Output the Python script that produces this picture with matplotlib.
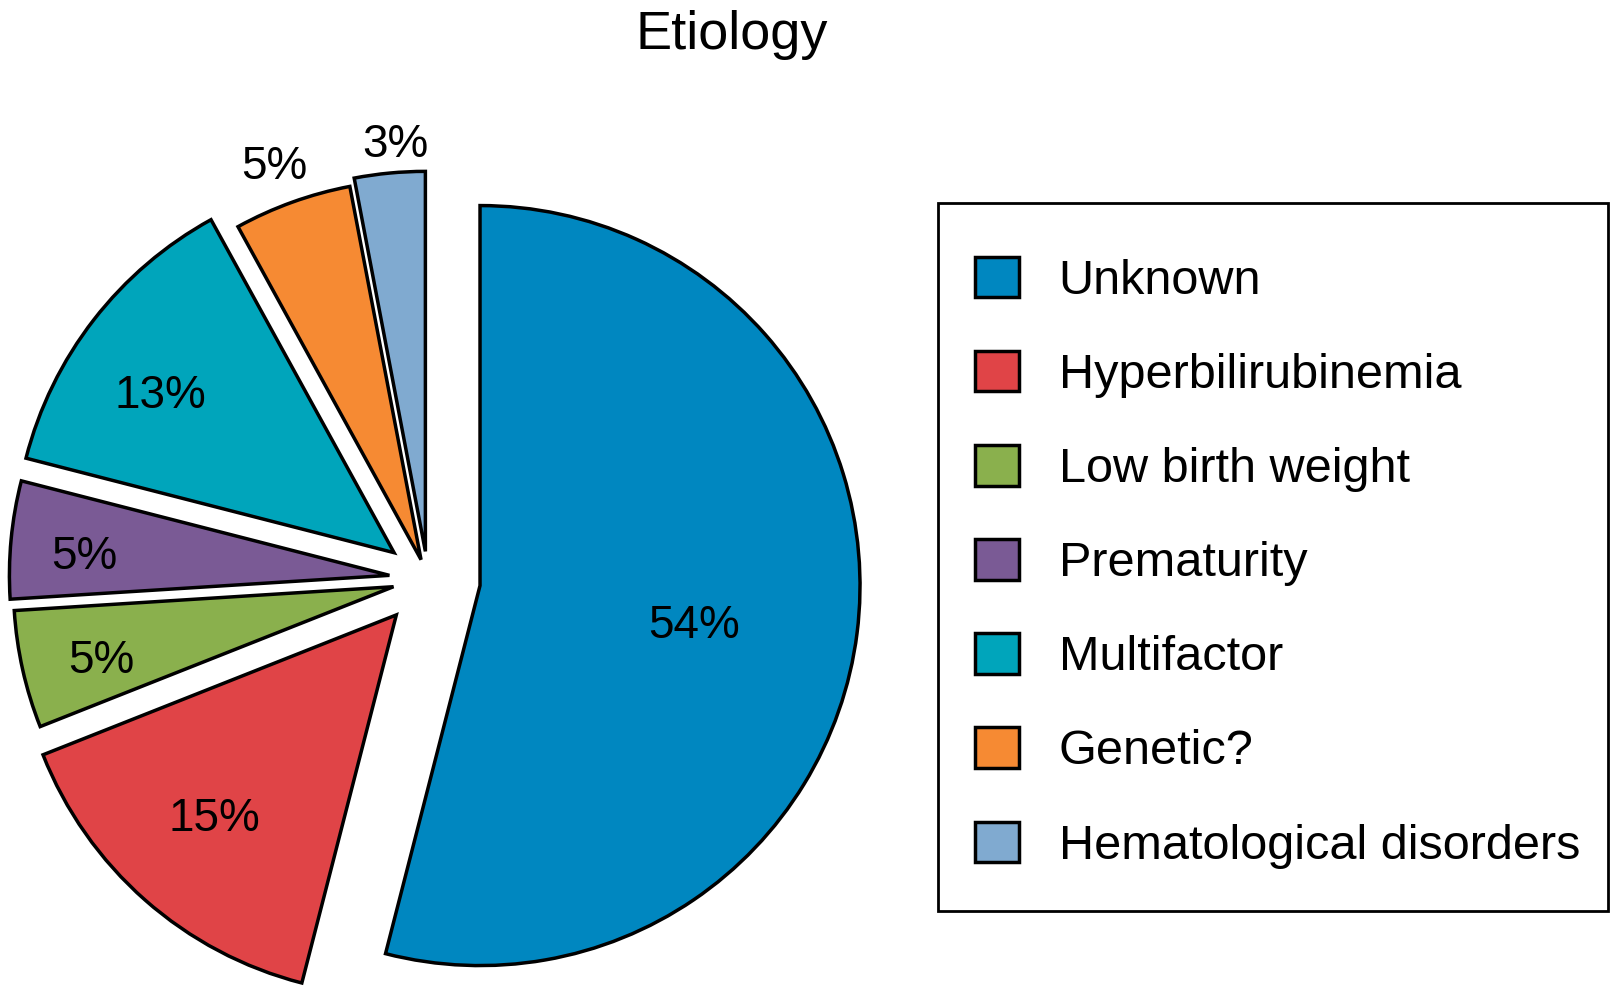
import matplotlib
matplotlib.use("Agg")
import matplotlib.pyplot as plt
from matplotlib.patches import Rectangle
import numpy as np

# ---- data ----
categories = ["Unknown", "Hyperbilirubinemia", "Low birth weight", "Prematurity",
              "Multifactor", "Genetic?", "Hematological disorders"]
values = [54, 15, 5, 5, 13, 5, 3]
title = "Etiology"

# ---- style ----
colors = ["#0087C0", "#E04447", "#8AB04D", "#7A5A95", "#00A5BB", "#F68A33", "#80AAD0"]
explode = [0.138, 0.126, 0.093, 0.102, 0.113, 0.054, 0.073]
label_dist = [0.571, 0.712, 0.792, 0.806, 0.748, 1.113, 1.083]
label_shift = [-2.45, -0.9, 0.9, 1.2, 3.2, 0.5, -1.2]

plt.rcParams["font.family"] = ["Liberation Sans", "DejaVu Sans"]

W, H = 1612, 989
fig = plt.figure(figsize=(W / 100, H / 100), dpi=100)
ax = fig.add_axes([0, 0, 1, 1])

wedges, _ = ax.pie(values, explode=explode, colors=colors, startangle=90,
                   counterclock=False, radius=1.0, center=(0, 0),
                   wedgeprops=dict(edgecolor="black", linewidth=2.5))

# pie scale: radius 380 px, centre at (428, 579) px from top-left
R = 380.0
ax.set_xlim(-428 / R, (W - 428) / R)
ax.set_ylim((579 - H) / R, 579 / R)
ax.set_aspect("equal", adjustable="box")
ax.axis("off")

for w, v, d, sh in zip(wedges, values, label_dist, label_shift):
    mid = np.deg2rad((w.theta1 + w.theta2) / 2 + sh)
    cx, cy = w.center
    ax.annotate(f"{v}%", (cx + d * w.r * np.cos(mid), cy + d * w.r * np.sin(mid)),
                xytext=(0, -0.358 * 33), textcoords="offset points",
                ha="center", va="baseline", fontsize=33, color="black")

fig.text(732 / W, 1 - 49 / H, title, ha="center", va="baseline", fontsize=39)

# legend (frame drawn as a separate rectangle)
leg = ax.legend(wedges, categories, loc="upper left",
                bbox_to_anchor=(975 / W, 1 - 257 / H),
                bbox_transform=fig.transFigure, borderaxespad=0, borderpad=0,
                fontsize=35, handlelength=0.9, handleheight=0.9,
                handletextpad=0.82, labelspacing=0.97, frameon=False)
fig.patches.append(Rectangle((938 / W, 1 - 911 / H), (1608 - 938) / W, (911 - 203) / H,
                             transform=fig.transFigure, fill=False,
                             edgecolor="black", linewidth=2.0, zorder=5))

fig.savefig("out.png", dpi=100)
